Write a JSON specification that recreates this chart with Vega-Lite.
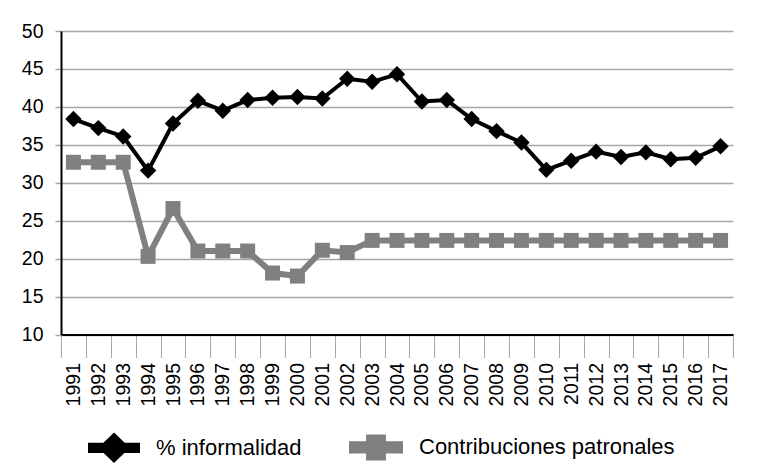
{
  "$schema": "https://vega.github.io/schema/vega-lite/v6.json",
  "autosize": {"type": "none"},
  "width": 672,
  "height": 303.5,
  "padding": {"left": 61, "top": 31, "right": 26, "bottom": 133.5},
  "background": "white",
  "config": {
    "view": {"stroke": null},
    "font": "Liberation Sans"
  },
  "data": {
    "values": [
      {"year": "1991", "series": "% informalidad", "value": 38.4},
      {"year": "1992", "series": "% informalidad", "value": 37.2},
      {"year": "1993", "series": "% informalidad", "value": 36.1},
      {"year": "1994", "series": "% informalidad", "value": 31.6},
      {"year": "1995", "series": "% informalidad", "value": 37.8},
      {"year": "1996", "series": "% informalidad", "value": 40.8},
      {"year": "1997", "series": "% informalidad", "value": 39.5},
      {"year": "1998", "series": "% informalidad", "value": 40.9},
      {"year": "1999", "series": "% informalidad", "value": 41.2},
      {"year": "2000", "series": "% informalidad", "value": 41.3},
      {"year": "2001", "series": "% informalidad", "value": 41.1},
      {"year": "2002", "series": "% informalidad", "value": 43.7},
      {"year": "2003", "series": "% informalidad", "value": 43.3},
      {"year": "2004", "series": "% informalidad", "value": 44.3},
      {"year": "2005", "series": "% informalidad", "value": 40.7},
      {"year": "2006", "series": "% informalidad", "value": 40.9},
      {"year": "2007", "series": "% informalidad", "value": 38.4},
      {"year": "2008", "series": "% informalidad", "value": 36.8},
      {"year": "2009", "series": "% informalidad", "value": 35.3},
      {"year": "2010", "series": "% informalidad", "value": 31.7},
      {"year": "2011", "series": "% informalidad", "value": 32.9},
      {"year": "2012", "series": "% informalidad", "value": 34.1},
      {"year": "2013", "series": "% informalidad", "value": 33.4},
      {"year": "2014", "series": "% informalidad", "value": 34.0},
      {"year": "2015", "series": "% informalidad", "value": 33.1},
      {"year": "2016", "series": "% informalidad", "value": 33.3},
      {"year": "2017", "series": "% informalidad", "value": 34.8},
      {"year": "1991", "series": "Contribuciones patronales", "value": 32.7},
      {"year": "1992", "series": "Contribuciones patronales", "value": 32.7},
      {"year": "1993", "series": "Contribuciones patronales", "value": 32.7},
      {"year": "1994", "series": "Contribuciones patronales", "value": 20.3},
      {"year": "1995", "series": "Contribuciones patronales", "value": 26.6},
      {"year": "1996", "series": "Contribuciones patronales", "value": 21.0},
      {"year": "1997", "series": "Contribuciones patronales", "value": 21.0},
      {"year": "1998", "series": "Contribuciones patronales", "value": 21.0},
      {"year": "1999", "series": "Contribuciones patronales", "value": 18.1},
      {"year": "2000", "series": "Contribuciones patronales", "value": 17.7},
      {"year": "2001", "series": "Contribuciones patronales", "value": 21.1},
      {"year": "2002", "series": "Contribuciones patronales", "value": 20.8},
      {"year": "2003", "series": "Contribuciones patronales", "value": 22.4},
      {"year": "2004", "series": "Contribuciones patronales", "value": 22.4},
      {"year": "2005", "series": "Contribuciones patronales", "value": 22.4},
      {"year": "2006", "series": "Contribuciones patronales", "value": 22.4},
      {"year": "2007", "series": "Contribuciones patronales", "value": 22.4},
      {"year": "2008", "series": "Contribuciones patronales", "value": 22.4},
      {"year": "2009", "series": "Contribuciones patronales", "value": 22.4},
      {"year": "2010", "series": "Contribuciones patronales", "value": 22.4},
      {"year": "2011", "series": "Contribuciones patronales", "value": 22.4},
      {"year": "2012", "series": "Contribuciones patronales", "value": 22.4},
      {"year": "2013", "series": "Contribuciones patronales", "value": 22.4},
      {"year": "2014", "series": "Contribuciones patronales", "value": 22.4},
      {"year": "2015", "series": "Contribuciones patronales", "value": 22.4},
      {"year": "2016", "series": "Contribuciones patronales", "value": 22.4},
      {"year": "2017", "series": "Contribuciones patronales", "value": 22.4}
    ]
  },
  "encoding": {
    "x": {
      "field": "year",
      "type": "ordinal",
      "scale": {"type": "band", "paddingInner": 0, "paddingOuter": 0},
      "axis": {
        "title": null,
        "tickBand": "extent",
        "tickSize": 23,
        "tickColor": "#a6a6a6",
        "tickWidth": 1,
        "labelAngle": 270,
        "labelPadding": 5,
        "labelFontSize": 19.5,
        "labelColor": "#000000",
        "labelFont": "Liberation Sans",
        "domainColor": "#000000",
        "domainWidth": 2,
        "grid": false
      }
    },
    "y": {
      "field": "value",
      "type": "quantitative",
      "scale": {"domain": [10, 50], "nice": false, "zero": false},
      "axis": {
        "title": null,
        "values": [10, 15, 20, 25, 30, 35, 40, 45, 50],
        "grid": true,
        "gridColor": "#a6a6a6",
        "gridWidth": 1.5,
        "tickColor": "#a6a6a6",
        "tickWidth": 1.5,
        "tickSize": 6,
        "labelPadding": 12,
        "labelFontSize": 19.5,
        "labelColor": "#000000",
        "labelFont": "Liberation Sans",
        "domainColor": "#000000",
        "domainWidth": 2
      }
    },
    "color": {
      "field": "series",
      "type": "nominal",
      "scale": {
        "domain": ["% informalidad", "Contribuciones patronales"],
        "range": ["#000000", "#808080"]
      },
      "legend": null
    }
  },
  "layer": [
    {
      "mark": {"type": "line"},
      "encoding": {
        "strokeWidth": {
          "field": "series",
          "type": "nominal",
          "scale": {"domain": ["% informalidad", "Contribuciones patronales"], "range": [4, 6]},
          "legend": null
        },
        "color": {
          "field": "series",
          "type": "nominal",
          "scale": {
            "domain": ["% informalidad", "Contribuciones patronales"],
            "range": ["#000000", "#808080"]
          },
          "legend": {
            "title": null,
            "orient": "none",
            "direction": "horizontal",
            "legendX": 27,
            "legendY": 389,
            "symbolSize": 2304,
            "symbolType": "M-1,-0.13L1,-0.13L1,0.13L-1,0.13Z",
            "symbolStrokeWidth": 0,
            "symbolFillColor": "#000000",
            "labelFont": "Liberation Sans",
            "labelFontSize": 22,
            "labelColor": "#000000",
            "labelOffset": 16,
            "columnPadding": 38,
            "labelLimit": 400,
            "encode": {
              "symbols": {
                "update": {
                  "shape": {"signal": "datum.value === '% informalidad' ? 'M-1,-0.13L1,-0.13L1,0.13L-1,0.13Z M0,-0.52L0.54,0L0,0.52L-0.54,0Z' : 'M-1,-0.13L1,-0.13L1,0.13L-1,0.13Z M-0.29,-0.42L0.29,-0.42L0.29,0.42L-0.29,0.42Z'"},
                  "fill": {"signal": "datum.value === '% informalidad' ? '#000000' : '#808080'"},
                  "stroke": {"value": "transparent"},
                  "strokeWidth": {"value": 0},
                  "opacity": {"value": 1}
                }
              }
            }
          }
        }
      }
    },
    {
      "transform": [{"filter": "datum.series === '% informalidad'"}],
      "mark": {"type": "point", "filled": true, "opacity": 1, "shape": "diamond", "size": 270}
    },
    {
      "transform": [{"filter": "datum.series === 'Contribuciones patronales'"}],
      "mark": {"type": "point", "filled": true, "opacity": 1, "shape": "square", "size": 225}
    }
  ]
}
